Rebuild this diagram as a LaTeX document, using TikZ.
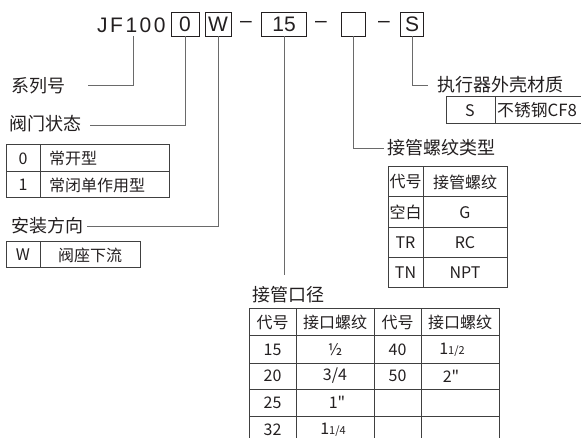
\documentclass[tikz,border=0pt]{standalone}
\usepackage{fontspec}
\setmainfont{Noto Sans CJK SC}
\newfontfamily\plaincjk{Noto Sans CJK SC}
\newfontfamily\jffont[LetterSpace=12]{Liberation Sans}
\newfontfamily\boxfont{Liberation Sans}
\newcommand{\inchmark}{{\plaincjk\char34}}
\definecolor{ink}{HTML}{231F20}
\definecolor{conncol}{HTML}{6A6A6A}
\definecolor{tblcol}{HTML}{404040}
\begin{document}
\begin{tikzpicture}[x=1pt,y=-1pt,
  toptext/.style={inner sep=0pt, text=ink, font=\jffont\fontsize{21}{21}\selectfont},
  codebox/.style={draw=ink, line width=0.8pt, minimum height=24pt, inner sep=0pt, text=ink,
    font=\boxfont\fontsize{21}{21}\selectfont, text height=15pt, text depth=0pt},
  dashsym/.style={inner sep=0pt, text=ink, font=\boxfont\fontsize{21}{21}\selectfont},
  lab/.style={inner sep=0pt, anchor=west, text=ink, font=\fontsize{18}{18}\selectfont},
  cell/.style={inner sep=0pt, text=ink, font=\fontsize{16}{16}\selectfont},
  conn/.style={draw=conncol, line width=0.8pt},
  tbl/.style={draw=tblcol, line width=1pt}]
\useasboundingbox (0,0) rectangle (581,438);
\clip (0,0) rectangle (581,438);

% --- model code line ---
\node[toptext, anchor=base west] (jf) at (97,33) {JF100};
\node[codebox, minimum width=28pt] (b0) at (185,24) {0};
\node[codebox, minimum width=26pt] (bw) at (218,24) {W};
\node[dashsym] (d1) at (246,24) {–};
\node[codebox, minimum width=45pt] (b15) at (284,24) {15};
\node[dashsym] (d2) at (321,24) {–};
\node[codebox, minimum width=24pt] (be) at (353,24) {};
\node[dashsym] (d3) at (384,24) {–};
\node[codebox, minimum width=23pt] (bs) at (412,24) {S};

% --- labels ---
\node[lab] (l1) at (11,86) {系列号};
\node[lab] (l2) at (9,124) {阀门状态};
\node[lab] (l3) at (11,226) {安装方向};
\node[lab] (l4) at (387,148) {接管螺纹类型};
\node[lab] (l5) at (437,85) {执行器外壳材质};
\node[lab] (l6) at (252,295) {接管口径};

% --- connectors ---
\coordinate (c1) at (133,36);
\coordinate (e1) at (88,85);
\coordinate (e2) at (90,125);
\coordinate (e3) at (87,226);
\coordinate (e4) at (384,148);
\coordinate (e5) at (428,85);
\coordinate (e6) at (284,275);
\draw[conn] (c1) |- (e1);
\draw[conn] (b0.south) |- (e2);
\draw[conn] (bw.south) |- (e3);
\draw[conn] (b15.south) -- (e6);
\draw[conn] (be.south) |- (e4);
\draw[conn] (bs.south) |- (e5);

% --- table: valve state ---
\draw[tbl] (6,145) rectangle (169,198);
\draw[tbl] (6,172) -- (169,172);
\draw[tbl] (40,145) -- (40,198);
\node[cell] (a11) at (23,158.5) {0};
\node[cell, anchor=west] (a12) at (49,158.5) {常开型};
\node[cell] (a21) at (23,185) {1};
\node[cell, anchor=west] (a22) at (49,185) {常闭单作用型};

% --- table: installation direction ---
\draw[tbl] (6,242) rectangle (140,268);
\draw[tbl] (40,242) -- (40,268);
\node[cell] (w1) at (23,255) {W};
\node[cell] (w2) at (90,255) {阀座下流};

% --- table: actuator housing material ---
\draw[tbl] (446,97) rectangle (620,124);
\draw[tbl] (495,97) -- (495,124);
\node[cell] (s1) at (470,110.5) {S};
\node[cell, anchor=west, font=\fontsize{16.8}{16.8}\selectfont] (s2) at (497,110.5) {不锈钢CF8};

% --- table: thread type ---
\draw[tbl] (388,167) rectangle (507,288);
\draw[tbl] (423,167) -- (423,288);
\draw[tbl] (388,197) -- (507,197);
\draw[tbl] (388,228) -- (507,228);
\draw[tbl] (388,258) -- (507,258);
\node[cell] (t11) at (405.5,182) {代号};
\node[cell] (t12) at (465,182) {接管螺纹};
\node[cell] (t21) at (405.5,212.5) {空白};
\node[cell] (t22) at (465,212.5) {G};
\node[cell] (t31) at (405.5,243) {TR};
\node[cell] (t32) at (465,243) {RC};
\node[cell] (t41) at (405.5,273) {TN};
\node[cell] (t42) at (465,273) {NPT};

% --- table: port size ---
\draw[tbl] (249,309) rectangle (499,460);
\foreach \xx in {296,374,421} \draw[tbl] (\xx,309) -- (\xx,460);
\foreach \yy in {336,363,389,416} \draw[tbl] (249,\yy) -- (499,\yy);
\node[cell] (p01) at (272.5,322.5) {代号};
\node[cell] (p02) at (335,322.5) {接口螺纹};
\node[cell] (p03) at (397.5,322.5) {代号};
\node[cell] (p04) at (460,322.5) {接口螺纹};
\node[cell] (p11) at (272.5,349.5) {15};
\node[cell] (p12) at (335,349.5) {½};
\node[cell] (p13) at (397.5,349.5) {40};
\node[cell] (p14) at (452,349.5) {1{\fontsize{11}{11}\selectfont 1/2}};
\node[cell] (p21) at (272.5,376) {20};
\node[cell] (p22) at (335,376) {3/4};
\node[cell] (p23) at (397.5,376) {50};
\node[cell] (p24) at (451,376) {2\inchmark};
\node[cell] (p31) at (272.5,402.5) {25};
\node[cell] (p32) at (337,402.5) {1\inchmark};
\node[cell] (p41) at (272.5,430) {32};
\node[cell] (p42) at (333,430) {1{\fontsize{11}{11}\selectfont 1/4}};
\end{tikzpicture}
\end{document}
